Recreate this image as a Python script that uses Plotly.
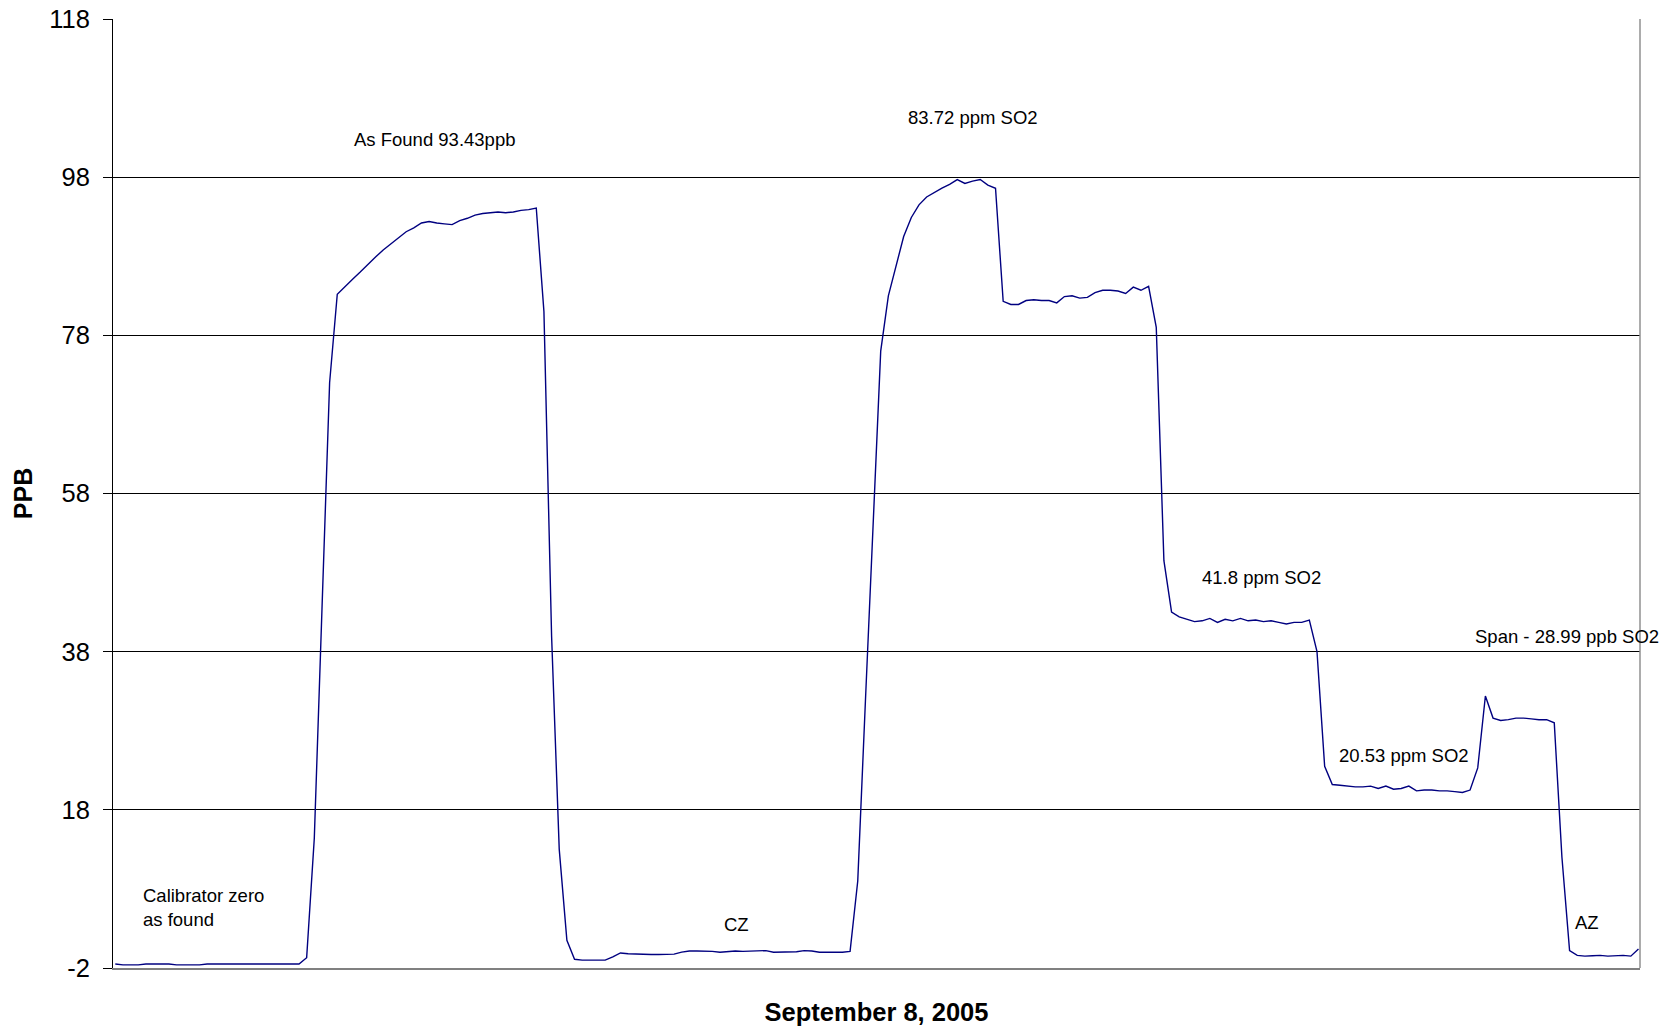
import plotly.graph_objects as go

# Sample index (one reading per interval) and measured SO2 (ppb)
sample = list(range(200))
ppb = [
    # calibrator zero as found (0-24)
    -1.5, -1.6, -1.6, -1.6, -1.5, -1.5, -1.5, -1.5, -1.6, -1.6,
    -1.6, -1.6, -1.5, -1.5, -1.5, -1.5, -1.5, -1.5, -1.5, -1.5,
    -1.5, -1.5, -1.5, -1.5, -1.5,
    # rise + as found plateau (25-55)
    -0.7, 14.4, 43.3, 72.0, 83.2, 84.2, 85.1, 86.0, 87.0, 87.9,
    88.8, 89.6, 90.3, 91.1, 91.6, 92.2, 92.4, 92.2, 92.1, 92.0,
    92.5, 92.8, 93.2, 93.4, 93.5, 93.6, 93.5, 93.6, 93.8, 93.9,
    94.1,
    # drop + CZ (56-96)
    81.0, 40.0, 13.0, 1.5, -0.9, -1.0, -1.0, -1.0, -1.0, -0.6,
    -0.1, -0.2, -0.25, -0.3, -0.3, -0.3, -0.3, -0.25, 0.0, 0.15,
    0.15, 0.15, 0.1, 0.0, 0.05, 0.15, 0.1, 0.15, 0.2, 0.2,
    0.0, 0.0, 0.05, 0.05, 0.2, 0.15, 0.0, 0.0, 0.0, 0.0,
    0.1,
    # rise + 83.72 ppm step (97-115)
    9.0, 31.7, 54.6, 76.0, 83.0, 86.8, 90.5, 92.9, 94.5, 95.5,
    96.1, 96.6, 97.1, 97.7, 97.2, 97.5, 97.7, 97.0, 96.6,
    # plateau (116-135)
    82.3, 81.9, 81.9, 82.4, 82.5, 82.4, 82.4, 82.1, 82.9, 83.0,
    82.7, 82.8, 83.4, 83.7, 83.7, 83.6, 83.3, 84.1, 83.7, 84.2,
    # 41.8 ppm step (136-156)
    79.0, 49.5, 43.0, 42.4, 42.1, 41.8, 41.9, 42.2, 41.7, 42.1,
    41.9, 42.2, 41.9, 42.0, 41.8, 41.9, 41.7, 41.5, 41.7, 41.7,
    42.0,
    # 20.53 ppm step (157-177)
    38.0, 23.5, 21.2, 21.1, 21.0, 20.9, 20.9, 21.0, 20.7, 21.0,
    20.6, 20.7, 21.0, 20.4, 20.5, 20.5, 20.4, 20.4, 20.3, 20.2,
    20.5,
    # span (178-188)
    23.3, 32.4, 29.6, 29.3, 29.4, 29.6, 29.6, 29.5, 29.4, 29.4,
    29.0,
    # AZ (189-199)
    12.0, 0.2, -0.4, -0.5, -0.45, -0.4, -0.5, -0.45, -0.4, -0.5,
    0.4,
]

y_ticks = [-2, 18, 38, 58, 78, 98, 118]
y_tick_text = ["-2", "18", "38", "58", "78", "98", "118"]

labels = ["As Found 93.43ppb", "83.72 ppm SO2", "41.8 ppm SO2", "20.53 ppm SO2",
          "Span - 28.99 ppb SO2", "Calibrator zero<br>as found", "CZ", "AZ"]
label_x = [41.8, 112.1, 149.7, 168.4, 177.4, 3.3, 81.1, 192.3]
label_y = [102.8, 105.5, 47.4, 24.85, 39.9, 5.7, 3.44, 3.73]
label_anchor = ["center", "center", "center", "center", "left", "left", "center", "center"]

FONT = "Liberation Sans, Arial, sans-serif"

fig = go.Figure()
fig.add_trace(go.Scatter(
    x=sample, y=ppb, mode="lines",
    line=dict(color="#000080", width=1.4),
    showlegend=False, hoverinfo="skip",
))

for t, xx, yy, a in zip(labels, label_x, label_y, label_anchor):
    fig.add_annotation(x=xx, y=yy, text=t, showarrow=False, xanchor=a, yanchor="middle",
                       align="left", font=dict(family=FONT, size=18.5, color="black"))

# right border of plot area
fig.add_shape(type="line", xref="paper", yref="paper", x0=1, x1=1, y0=0, y1=1,
              line=dict(color="#909090", width=1.5))

fig.update_layout(
    width=1669, height=1029, autosize=False,
    margin=dict(l=113, r=29, t=19, b=61, autoexpand=False),
    paper_bgcolor="white", plot_bgcolor="white",
    font=dict(family=FONT, color="black"),
    xaxis=dict(
        range=[-0.3, 199.2], showticklabels=False, ticks="", showgrid=False,
        zeroline=False, showline=True, linecolor="#808080", linewidth=1.5, automargin=False,
        title=dict(text="<b>September 8, 2005</b>", font=dict(family=FONT, size=25.5, color="black"),
                   standoff=34),
    ),
    yaxis=dict(
        range=[-2, 118], tickvals=y_ticks, ticktext=y_tick_text, ticks="outside", ticklen=9,
        tickcolor="black", automargin=False,
        tickfont=dict(family=FONT, size=25.5, color="black"), ticklabelstandoff=8,
        showgrid=True, gridcolor="black", gridwidth=1, zeroline=False,
        showline=True, linecolor="black", linewidth=1,
        title=dict(text="<b>PPB</b>", font=dict(family=FONT, size=25, color="black"), standoff=9),
    ),
)

fig.write_html("out.html", config={"displayModeBar": False},
               post_script="document.body.style.margin='0';")
